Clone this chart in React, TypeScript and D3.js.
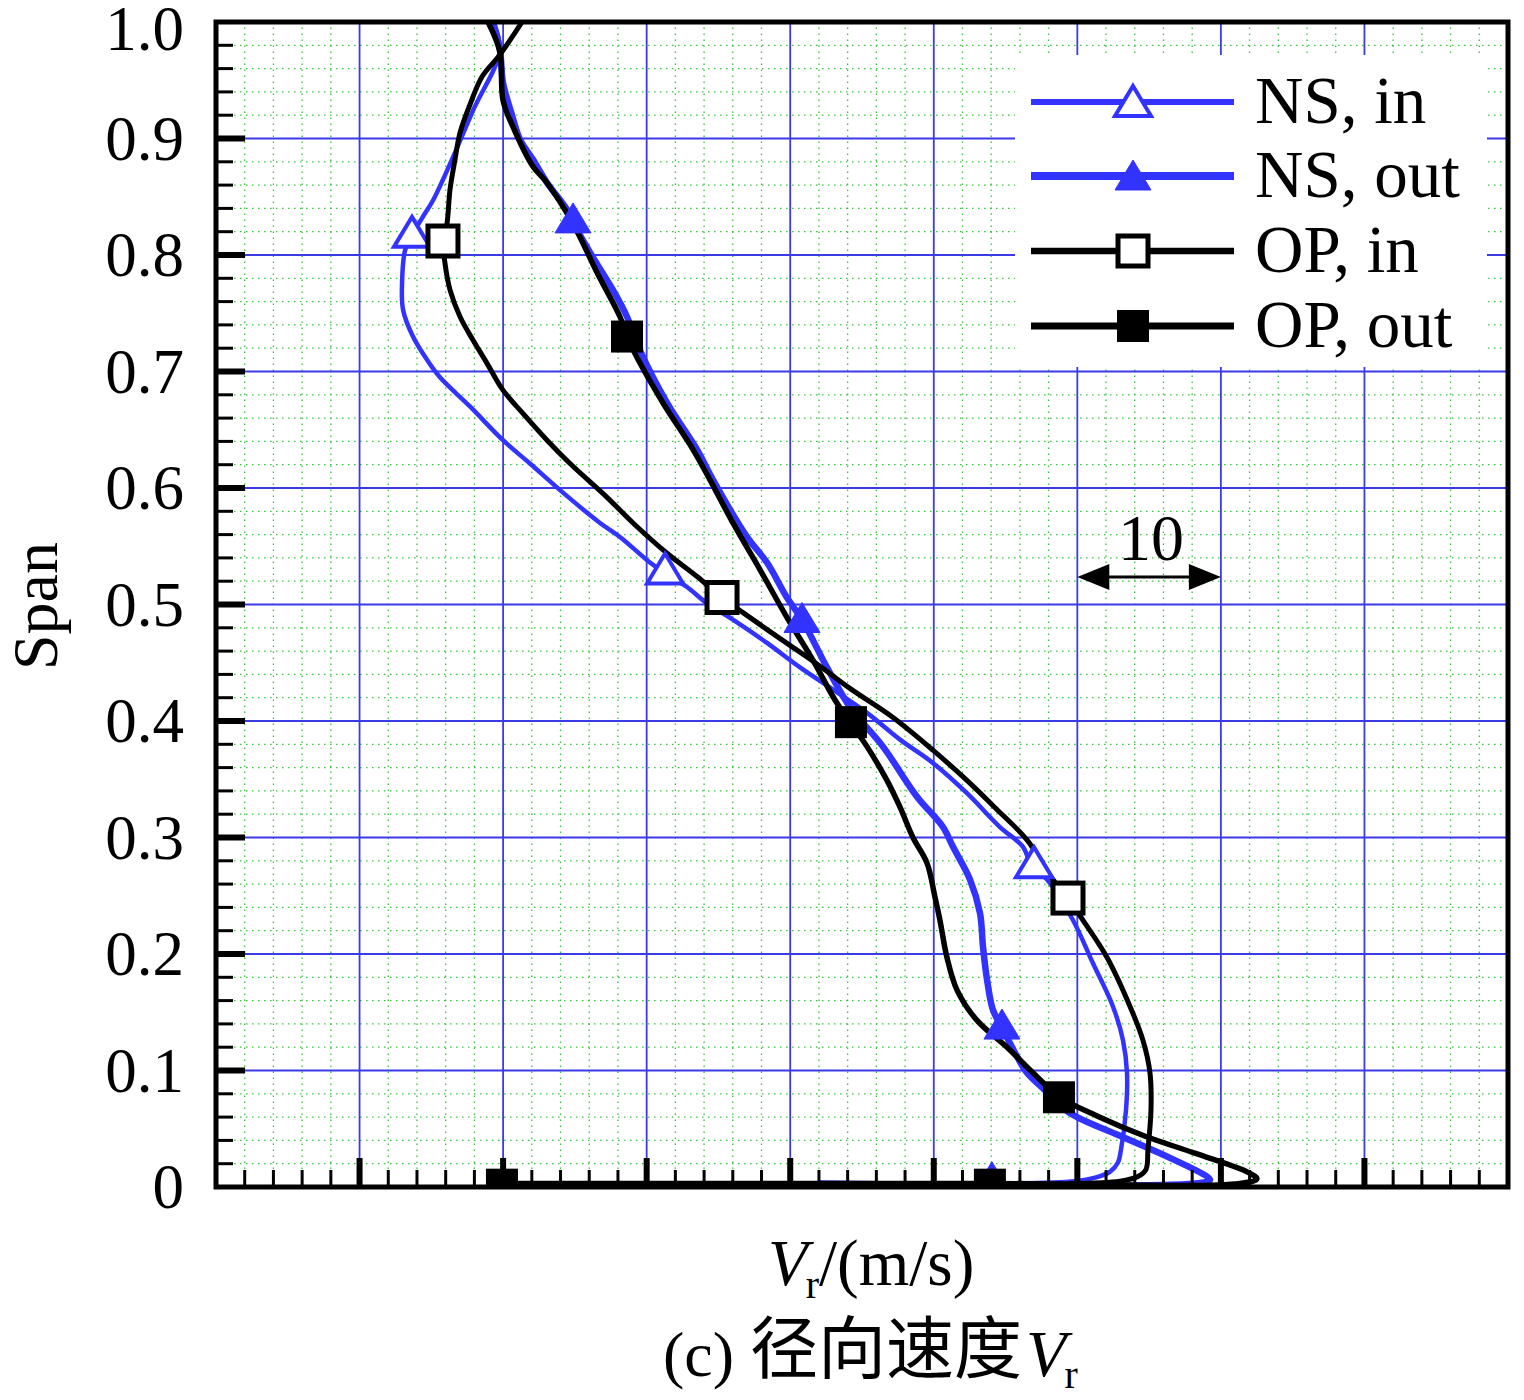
import * as d3 from "d3";

// span ticks on the left axis
const spanTicks = [0, 0.1, 0.2, 0.3, 0.4, 0.5, 0.6, 0.7, 0.8, 0.9, 1.0];
const spanTickLabels = ["0", "0.1", "0.2", "0.3", "0.4", "0.5", "0.6", "0.7", "0.8", "0.9", "1.0"];
// Vr axis has no labels, only a 10 m/s scale bar
const vrMajorTicks = [0, 10, 20, 30, 40, 50, 60, 70, 80, 90];
const scaleBarRange = [60, 70];
const scaleBarLabel = "10";
const legendLabels = ["NS, in", "NS, out", "OP, in", "OP, out"];

type Pt = [number, number]; // [Vr, span]

const nsIn: Pt[] = [
  [19.3, 1.0], [19.78, 0.976], [17.9, 0.924], [16.51, 0.884], [15.12, 0.847], [14.42, 0.833],
  [13.65, 0.817], [13.17, 0.804], [12.96, 0.776], [13.03, 0.753], [13.72, 0.73], [14.7, 0.71],
  [15.6, 0.695], [17.69, 0.67], [19.99, 0.641], [21.87, 0.621], [24.17, 0.596], [26.75, 0.57],
  [28.14, 0.558], [30.23, 0.536], [31.28, 0.527], [32.81, 0.515], [34.2, 0.501], [36.01, 0.487],
  [38.38, 0.467], [40.68, 0.446], [42.98, 0.427], [45.35, 0.407], [47.65, 0.384], [49.94, 0.364],
  [52.31, 0.338], [54.61, 0.309], [56.21, 0.292], [56.84, 0.275], [57.89, 0.264], [59.7, 0.229],
  [61.09, 0.192], [62.48, 0.155], [63.18, 0.126], [63.46, 0.098], [63.39, 0.066], [63.04, 0.032],
  [62.83, 0.021], [62.27, 0.013], [61.23, 0.008], [59.84, 0.005], [55.31, 0.003],
];
const nsInMarks: Pt[] = [[13.65, 0.819], [31.28, 0.53], [56.98, 0.278]];

const nsOut: Pt[] = [
  [19.3, 1.0], [19.78, 0.976], [19.99, 0.948], [20.62, 0.92], [21.18, 0.899], [22.08, 0.882],
  [23.06, 0.862], [24.45, 0.839], [24.87, 0.828], [26.26, 0.798], [27.65, 0.77], [28.63, 0.747],
  [29.54, 0.718], [31.42, 0.673], [33.51, 0.633], [34.62, 0.607], [36.99, 0.558], [38.38, 0.536],
  [39.77, 0.506], [40.82, 0.487], [42.56, 0.446], [44.16, 0.412], [46.46, 0.378], [48.83, 0.335],
  [50.64, 0.309], [51.34, 0.292], [52.52, 0.264], [53.22, 0.235], [53.43, 0.206], [53.71, 0.178],
  [54.12, 0.152], [54.75, 0.137], [55.8, 0.112], [56.49, 0.098], [57.75, 0.083], [59.42, 0.064],
  [62.97, 0.044], [66.45, 0.025], [69.03, 0.009], [69.24, 0.006], [68.19, 0.003], [42.07, 0.003],
];
const nsOutMarks: Pt[] = [[24.87, 0.831], [40.82, 0.488], [54.75, 0.139], [54.05, 0.008]];

const opIn: Pt[] = [
  [21.32, 1.0], [19.78, 0.972], [18.53, 0.953], [17.69, 0.929], [17.0, 0.905], [16.65, 0.882],
  [16.3, 0.856], [16.09, 0.827], [15.81, 0.813], [15.95, 0.793], [16.3, 0.77], [17.0, 0.747],
  [17.9, 0.727], [18.88, 0.707], [19.99, 0.684], [21.38, 0.664], [23.06, 0.641], [24.66, 0.621],
  [27.24, 0.592], [29.05, 0.57], [31.42, 0.544], [33.51, 0.524], [35.25, 0.506], [36.71, 0.493],
  [39.5, 0.469], [41.86, 0.449], [44.16, 0.428], [47.16, 0.403], [49.94, 0.375], [52.31, 0.349],
  [54.4, 0.324], [56.49, 0.298], [58.3, 0.264], [59.35, 0.248], [60.39, 0.229], [62.07, 0.197],
  [63.67, 0.155], [64.57, 0.126], [65.06, 0.098], [65.13, 0.066], [64.92, 0.032], [64.78, 0.015],
  [64.22, 0.009], [62.97, 0.005], [59.49, 0.003],
];
const opInMarks: Pt[] = [[15.81, 0.812], [35.25, 0.506], [59.35, 0.248]];

const opOut: Pt[] = [
  [18.95, 1.0], [19.78, 0.974], [19.99, 0.933], [20.69, 0.91], [22.08, 0.876], [23.06, 0.862],
  [24.87, 0.827], [26.54, 0.785], [28.14, 0.747], [28.63, 0.73], [29.33, 0.712], [31.14, 0.673],
  [33.23, 0.633], [34.41, 0.607], [36.01, 0.57], [37.89, 0.53], [39.77, 0.489], [41.59, 0.452],
  [43.12, 0.418], [44.16, 0.399], [45.35, 0.378], [46.74, 0.349], [47.65, 0.326], [48.55, 0.3],
  [49.53, 0.278], [50.08, 0.249], [50.43, 0.229], [50.92, 0.197], [51.62, 0.169], [53.01, 0.143],
  [55.1, 0.12], [56.91, 0.098], [58.79, 0.077], [61.37, 0.061], [64.64, 0.044], [68.19, 0.029],
  [71.82, 0.013], [72.51, 0.007], [71.33, 0.003], [53.91, 0.003], [19.99, 0.003],
];
const opOutMarks: Pt[] = [[28.63, 0.73], [44.23, 0.399], [58.72, 0.077], [53.91, 0.002], [19.92, 0.002]];

const BLUE = "#3333ff";
const GRID_BLUE = "#3a3ae6";
const GRID_GREEN = "#3cbf3c";
const FONT = "'Liberation Serif', 'Times New Roman', serif";
const CJK = "'Noto Sans CJK SC', sans-serif";

type Kind = "triOpen" | "triFilled" | "sqOpen" | "sqFilled";

const series = [
  { label: legendLabels[0], data: nsIn, marks: nsInMarks, color: BLUE, width: 4.5, kind: "triOpen" as Kind },
  { label: legendLabels[1], data: nsOut, marks: nsOutMarks, color: BLUE, width: 6.5, kind: "triFilled" as Kind },
  { label: legendLabels[2], data: opIn, marks: opInMarks, color: "#000", width: 5, kind: "sqOpen" as Kind },
  { label: legendLabels[3], data: opOut, marks: opOutMarks, color: "#000", width: 5.5, kind: "sqFilled" as Kind },
];

function Marker({ kind, cx, cy, color }: { kind: Kind; cx: number; cy: number; color: string }) {
  if (kind === "triOpen" || kind === "triFilled") {
    const open = kind === "triOpen";
    return (
      <path
        d="M0,-16 L18,14 L-18,14 Z"
        transform={`translate(${cx},${cy})`}
        fill={open ? "#fff" : color}
        stroke={color}
        strokeWidth={open ? 4 : 1}
        strokeLinejoin="miter"
      />
    );
  }
  if (kind === "sqOpen") {
    return <rect x={cx - 15} y={cy - 15} width={30} height={30} fill="#fff" stroke={color} strokeWidth={5} />;
  }
  return <rect x={cx - 16} y={cy - 16} width={32} height={32} fill={color} />;
}

export default function App() {
  const x = d3.scaleLinear().domain([0, 90]).range([216, 1508]);
  const y = d3.scaleLinear().domain([0, 1]).range([1187, 22]);
  const line = d3
    .line<Pt>()
    .x((d) => x(d[0]))
    .y((d) => y(d[1]))
    .curve(d3.curveCatmullRom.alpha(0.5));

  const minorVr = d3.range(0, 91, 2).filter((v) => v % 10 !== 0);
  const minorSpan = d3
    .range(1, 50)
    .filter((i) => i % 5 !== 0)
    .map((i) => i * 0.02);
  const innerMajorVr = vrMajorTicks.slice(1, -1);
  const innerMajorSpan = spanTicks.slice(1, -1);

  const [x0, x1] = x.range();
  const [y0, y1] = y.range();

  const legendRows = [102, 176, 251, 326];

  return (
    <svg
      width={1524}
      height={1400}
      style={{ position: "absolute", left: 0, top: 0, background: "#fff" }}
      fontFamily={FONT}
    >
      <defs>
        <clipPath id="plotClip">
          <rect x={x0} y={y1} width={x1 - x0} height={y0 - y1} />
        </clipPath>
      </defs>
      <rect width={1524} height={1400} fill="#fff" />

      {/* minor grid */}
      <g stroke={GRID_GREEN} strokeWidth={1.3} strokeDasharray="1.5 4.5">
        {minorVr.map((v) => (
          <line key={`mx${v}`} x1={x(v)} x2={x(v)} y1={y0} y2={y1} />
        ))}
        {minorSpan.map((s) => (
          <line key={`my${s}`} x1={x0} x2={x1} y1={y(s)} y2={y(s)} />
        ))}
      </g>
      {/* major grid */}
      <g stroke={GRID_BLUE} strokeWidth={1.8}>
        {innerMajorVr.map((v) => (
          <line key={`Mx${v}`} x1={x(v)} x2={x(v)} y1={y0} y2={y1} />
        ))}
        {innerMajorSpan.map((s) => (
          <line key={`My${s}`} x1={x0} x2={x1} y1={y(s)} y2={y(s)} />
        ))}
      </g>

      {/* legend */}
      <rect x={1015} y={55} width={472} height={312} fill="#fff" />
      {series.map((s, i) => (
        <g key={s.label}>
          <line x1={1031} x2={1234} y1={legendRows[i]} y2={legendRows[i]} stroke={s.color} strokeWidth={s.width + 1.5} />
          <Marker kind={s.kind} cx={1133} cy={legendRows[i]} color={s.color} />
          <text x={1255} y={legendRows[i] + 21} fontSize={67}>
            {s.label}
          </text>
        </g>
      ))}

      {/* scale bar */}
      <g>
        <line x1={x(scaleBarRange[0]) + 20} x2={x(scaleBarRange[1]) - 20} y1={577} y2={577} stroke="#000" strokeWidth={3} />
        <path
          d={`M${x(scaleBarRange[0])},577 L${x(scaleBarRange[0]) + 32},564 L${x(scaleBarRange[0]) + 32},590 Z`}
          fill="#000"
        />
        <path
          d={`M${x(scaleBarRange[1])},577 L${x(scaleBarRange[1]) - 32},564 L${x(scaleBarRange[1]) - 32},590 Z`}
          fill="#000"
        />
        <text x={x((scaleBarRange[0] + scaleBarRange[1]) / 2) + 2} y={560} fontSize={66} textAnchor="middle">
          {scaleBarLabel}
        </text>
      </g>

      {/* curves */}
      <g clipPath="url(#plotClip)" fill="none" strokeLinejoin="round" strokeLinecap="round">
        {series.map((s) => (
          <path key={s.label} d={line(s.data) ?? ""} stroke={s.color} strokeWidth={s.width} />
        ))}
      </g>
      <g clipPath="url(#plotClip)">
        {series.map((s) =>
          s.marks.map((m, j) => <Marker key={`${s.label}${j}`} kind={s.kind} cx={x(m[0])} cy={y(m[1])} color={s.color} />)
        )}
      </g>

      {/* ticks */}
      <g stroke="#000">
        {innerMajorSpan.map((s) => (
          <line key={`tl${s}`} x1={x0} x2={x0 + 29} y1={y(s)} y2={y(s)} strokeWidth={6} />
        ))}
        {minorSpan.map((s) => (
          <line key={`tm${s}`} x1={x0} x2={x0 + 17} y1={y(s)} y2={y(s)} strokeWidth={3} />
        ))}
        {innerMajorVr.map((v) => (
          <line key={`bx${v}`} x1={x(v)} x2={x(v)} y1={y0} y2={y0 - 29} strokeWidth={6} />
        ))}
        {minorVr.map((v) => (
          <line key={`bm${v}`} x1={x(v)} x2={x(v)} y1={y0} y2={y0 - 17} strokeWidth={3} />
        ))}
      </g>
      <rect x={x0} y={y1} width={x1 - x0} height={y0 - y1} fill="none" stroke="#000" strokeWidth={5} />

      {/* tick labels */}
      {spanTicks.map((s, i) => (
        <text
          key={`lbl${s}`}
          x={184}
          y={s === 1 ? y(s) + 7 : y(s)}
          fontSize={63}
          textAnchor="end"
          dominantBaseline="central"
        >
          {spanTickLabels[i]}
        </text>
      ))}

      {/* axis titles */}
      <text transform="translate(57,606) rotate(-90)" fontSize={64} textAnchor="middle">
        Span
      </text>
      <text x={768} y={1285} fontSize={65}>
        <tspan fontStyle="italic">V</tspan>
        <tspan fontSize={40} dx={-2} dy={13}>
          r
        </tspan>
        <tspan dx={0} dy={-13}>
          /(m/s)
        </tspan>
      </text>

      {/* caption */}
      <text x={663} y={1376} fontSize={64}>
        <tspan>(c) </tspan>
        <tspan fontFamily={CJK} fontSize={68} dy={-3}>
          径向速度
        </tspan>
        <tspan fontStyle="italic" fontSize={66} dx={4} dy={3}>
          V
        </tspan>
        <tspan fontSize={40} dx={-2} dy={12}>
          r
        </tspan>
      </text>
    </svg>
  );
}
